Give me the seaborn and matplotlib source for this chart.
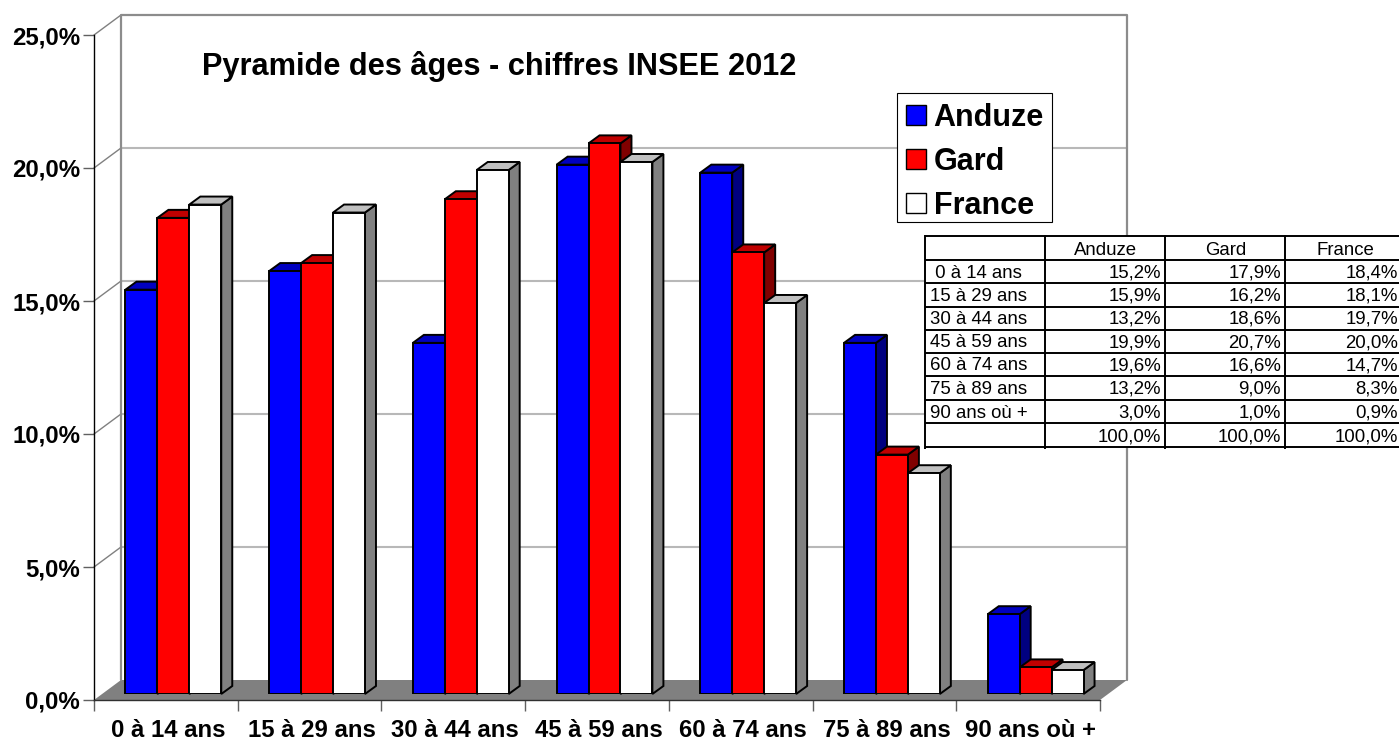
import matplotlib
matplotlib.use('Agg')
import matplotlib.pyplot as plt
from matplotlib.patches import Polygon, Rectangle
from matplotlib.transforms import IdentityTransform
import pandas as pd
import seaborn as sns

sns.set_style('white')
plt.rcParams['font.family'] = ['Liberation Sans', 'DejaVu Sans']
plt.rcParams['text.color'] = 'black'
plt.rcParams['xtick.labelcolor'] = 'black'
plt.rcParams['ytick.labelcolor'] = 'black'

# data
tranches = ['0 à 14 ans', '15 à 29 ans', '30 à 44 ans', '45 à 59 ans',
            '60 à 74 ans', '75 à 89 ans', '90 ans où +']
anduze = [15.2, 15.9, 13.2, 19.9, 19.6, 13.2, 3.0]
gard = [17.9, 16.2, 18.6, 20.7, 16.6, 9.0, 1.0]
france = [18.4, 18.1, 19.7, 20.0, 14.7, 8.3, 0.9]
totaux = [100.0, 100.0, 100.0]
graduations = [0, 5, 10, 15, 20, 25]
titre = 'Pyramide des âges - chiffres INSEE 2012'

W, H = 1399, 740
FOND_X, FOND_Y = 27, 20   # decalage mur du fond
BARRE_X, BARRE_Y = 7.5, 6  # decalage du plan des barres
PROF_X, PROF_Y = 11, 8    # profondeur d'une barre


def boite(g, h, d, b):
    return [g / W, 1 - b / H, (d - g) / W, (b - h) / H]


def pct(v):
    return f'{v:.1f}'.replace('.', ',') + '%'


fig = plt.figure(figsize=(W / 100, H / 100), dpi=100, facecolor='white')

# mur et sol, en pixels
mur = fig.add_axes([0, 0, 1, 1], zorder=0)
mur.set_xlim(0, W)
mur.set_ylim(H, 0)
mur.axis('off')

G, D, HAUT, BAS = 94, 1100, 35, 700
mur.add_patch(Polygon([(G, BAS), (D, BAS), (D + FOND_X, BAS - FOND_Y), (G + FOND_X, BAS - FOND_Y)],
                      closed=True, facecolor='#808080', edgecolor='none'))
for v in graduations[1:-1]:
    y = BAS - (BAS - HAUT) * v / 25
    mur.plot([G + FOND_X, D + FOND_X], [y - FOND_Y, y - FOND_Y], color='#b8b8b8', lw=1.5)
for v in graduations[1:]:
    y = BAS - (BAS - HAUT) * v / 25
    mur.plot([G, G + FOND_X], [y, y - FOND_Y], color='#808080', lw=1)
mur.plot([G + FOND_X, G + FOND_X, D + FOND_X, D + FOND_X],
         [BAS - FOND_Y, HAUT - FOND_Y, HAUT - FOND_Y, BAS - FOND_Y], color='#8c8c8c', lw=1.6)

# plan avant : axes et graduations
ax = fig.add_axes(boite(G, HAUT, D, BAS), zorder=1)
ax.patch.set_alpha(0)
ax.set_xlim(-0.5, 6.5)
ax.set_ylim(0, 25)
for s in ['top', 'right']:
    ax.spines[s].set_visible(False)
ax.spines['left'].set_linewidth(1)
ax.spines['bottom'].set_linewidth(1)
ax.spines['left'].set_color('black')
ax.spines['bottom'].set_color('#303030')
ax.set_yticks(graduations)
ax.set_yticklabels([pct(v) for v in graduations], fontsize=17.3, fontweight='bold')
ax.set_xticks([i - 0.5 for i in range(8)])
ax.set_xticklabels([])
ax.set_xticks([i + 0.014 for i in range(7)], minor=True)
ax.set_xticklabels(tranches, minor=True, fontsize=17.2, fontweight='bold')
ax.tick_params(axis='y', which='major', left=True, length=8, width=1, color='#606060', pad=2)
ax.tick_params(axis='x', which='major', bottom=True, length=8, width=1, color='#606060')
ax.tick_params(axis='x', which='minor', bottom=False, length=0, pad=13.5)

# barres
df = pd.DataFrame({
    'tranche': tranches * 3,
    'serie': ['Anduze'] * 7 + ['Gard'] * 7 + ['France'] * 7,
    'valeur': anduze + gard + france,
})
couleurs = {'Anduze': '#0000ff', 'Gard': '#ff0000', 'France': '#ffffff'}
dessus = {'#0000ff': '#0000c0', '#ff0000': '#c00000', '#ffffff': '#c0c0c0'}
cote = {'#0000ff': '#000080', '#ff0000': '#800000', '#ffffff': '#808080'}

ax_b = fig.add_axes(boite(G + BARRE_X, HAUT - BARRE_Y, D + BARRE_X, BAS - BARRE_Y), zorder=2)
ax_b.patch.set_alpha(0)
sns.barplot(data=df, x='tranche', y='valeur', hue='serie', palette=couleurs, ax=ax_b,
            width=2 / 3, gap=0, saturation=1, edgecolor='black', linewidth=1.4,
            legend=False, errorbar=None)
ax_b.set_xlim(-0.5, 6.5)
ax_b.set_ylim(0, 25)
ax_b.axis('off')

fig.canvas.draw()
barres = sorted(ax_b.patches, key=lambda p: p.get_x())
for i, p in enumerate(barres):
    x0, y0 = ax_b.transData.transform((p.get_x(), 0))
    x1, y1 = ax_b.transData.transform((p.get_x() + p.get_width(), p.get_height()))
    teinte = matplotlib.colors.to_hex(p.get_facecolor())
    face_cote = Polygon([(x1, y0), (x1 + PROF_X, y0 + PROF_Y), (x1 + PROF_X, y1 + PROF_Y), (x1, y1)],
                        closed=True, facecolor=cote[teinte], edgecolor='black', lw=1.4,
                        transform=IdentityTransform(), zorder=10 + 3 * i, clip_on=False)
    face_haut = Polygon([(x0, y1), (x0 + PROF_X, y1 + PROF_Y), (x1 + PROF_X, y1 + PROF_Y), (x1, y1)],
                        closed=True, facecolor=dessus[teinte], edgecolor='black', lw=1.4,
                        transform=IdentityTransform(), zorder=11 + 3 * i, clip_on=False)
    ax_b.add_patch(face_cote)
    ax_b.add_patch(face_haut)
    p.set_zorder(12 + 3 * i)

# titre, tableau, legende
haut = fig.add_axes([0, 0, 1, 1], zorder=3)
haut.set_xlim(0, W)
haut.set_ylim(H, 0)
haut.axis('off')
haut.text(202, 66, titre, fontsize=22.15, fontweight='bold', ha='left', va='center')

entetes = ['Anduze', 'Gard', 'France']
colonnes = [925, 1045, 1165, 1285, 1399]
centres = [1105.5, 1226, 1345]
droites = [1161, 1281, 1398]
lignes = [236, 260, 283, 306.5, 329.5, 353, 376, 400, 423, 447]
haut.add_patch(Rectangle((colonnes[0], lignes[0]), colonnes[-1] - colonnes[0], lignes[-1] - lignes[0],
                         facecolor='white', edgecolor='none'))
for y in lignes:
    haut.plot([colonnes[0], colonnes[-1]], [y, y], color='black', lw=1.4, solid_capstyle='butt')
for x in colonnes[:-1]:
    haut.plot([x, x], [lignes[0] - 1, lignes[-1] + 2], color='black', lw=1.4, solid_capstyle='butt')

decal = 1.5
for j, nom in enumerate(entetes):
    haut.text(centres[j], (lignes[0] + lignes[1]) / 2 + decal + 1, nom, fontsize=13.4, ha='center', va='center')
for i, nom in enumerate(tranches):
    yc = (lignes[i + 1] + lignes[i + 2]) / 2 + decal
    haut.text(colonnes[0] + 4.5, yc, (' ' + nom) if i == 0 else nom, fontsize=13.4, ha='left', va='center')
    for j, serie in enumerate([anduze, gard, france]):
        haut.text(droites[j], yc, pct(serie[i]), fontsize=13.4, ha='right', va='center')
for j, v in enumerate(totaux):
    haut.text(droites[j], (lignes[-2] + lignes[-1]) / 2 + decal, pct(v), fontsize=13.4, ha='right', va='center')

# cadre de legende dessine a part pour garder la hauteur d'origine
haut.add_patch(Rectangle((897, 93), 155, 129, facecolor='white', edgecolor='black', lw=0.8, zorder=4))
poignees = [Rectangle((0, 0), 1, 1, facecolor=couleurs[n], edgecolor='black', lw=1) for n in entetes]
leg = haut.legend(poignees, entetes, loc='upper left', bbox_to_anchor=(897 / W, 1 - 94 / H),
                  bbox_transform=fig.transFigure, borderaxespad=0, frameon=False,
                  prop={'size': 22, 'weight': 'bold'}, handlelength=0.66, handleheight=0.66,
                  handletextpad=0.26, labelspacing=0.46, borderpad=0.28)
leg.set_zorder(5)

fig.savefig('out.png', dpi=100)
